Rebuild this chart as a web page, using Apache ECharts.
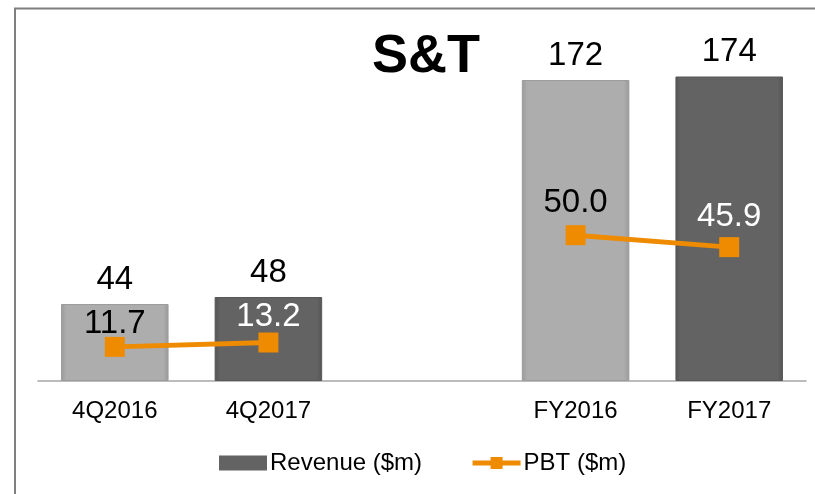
<!DOCTYPE html>
<html lang="en" style="height: 100%">
<head>
  <meta charset="utf-8">
</head>
<body style="height: 100%; margin: 0; background: #fff">
  <div id="container" style="width: 815px; height: 494px"></div>

  <script type="text/javascript" src="https://fastly.jsdelivr.net/npm/echarts@6/dist/echarts.min.js"></script>
  <script type="text/javascript">
    var categories = ['4Q2016', '4Q2017', '', 'FY2016', 'FY2017'];
    var revenue = [44, 48, null, 172, 174];
    var pbt = [11.7, 13.2, null, 50.0, 45.9];
    var pbtLabels = ['11.7', '13.2', '', '50.0', '45.9'];

    var LIGHT = '#adadad';
    var DARK = '#636363';
    var ORANGE = '#ef8b00';
    var FONT = '"Liberation Sans", Arial, sans-serif';

    function barFill(base, edge) {
      return new echarts.graphic.LinearGradient(0, 0, 1, 0, [
        { offset: 0, color: edge },
        { offset: 0.05, color: base },
        { offset: 0.95, color: base },
        { offset: 1, color: edge }
      ]);
    }

    var lightShade = { fill: barFill(LIGHT, '#999999'), border: '#9c9c9c', pbtText: '#000' };
    var darkShade = { fill: barFill(DARK, '#545454'), border: '#575757', pbtText: '#fff' };
    // 2016 columns light, 2017 columns dark
    var shades = [lightShade, darkShade, lightShade, lightShade, darkShade];
    // Excel placed the PBT labels a little unevenly
    var pbtLabelShift = [5, 2, 0, -5, -3];

    var myChart = echarts.init(document.getElementById('container'), null, { renderer: 'canvas' });

    var option = {
      backgroundColor: '#fff',
      animation: false,
      textStyle: { fontFamily: FONT },
      graphic: [
        { type: 'line', shape: { x1: 15, y1: 8, x2: 15, y2: 494 }, style: { stroke: '#7f7f7f', lineWidth: 2 } },
        { type: 'line', shape: { x1: 14, y1: 8.5, x2: 815, y2: 8.5 }, style: { stroke: '#7f7f7f', lineWidth: 2 } },
        {
          type: 'text', left: 372, top: 30,
          style: { text: 'S&T', font: 'bold 54px ' + FONT, fill: '#000' }
        }
      ],
      grid: { left: 38, right: 9, top: 31, bottom: 113 },
      legend: {
        left: 214,
        top: 446,
        itemWidth: 48,
        itemHeight: 15,
        itemGap: 48,
        textStyle: { fontSize: 24, color: '#000', fontFamily: FONT, padding: [0, 0, 0, -2] },
        data: [
          { name: 'Revenue ($m)', icon: 'rect', itemStyle: { color: DARK, borderColor: '#555' } },
          { name: 'PBT ($m)', lineStyle: { width: 5, color: ORANGE } }
        ]
      },
      xAxis: {
        type: 'category',
        data: categories,
        axisLine: { lineStyle: { color: '#a6a6a6', width: 1.5 } },
        axisTick: { length: 8, lineStyle: { color: '#a6a6a6', width: 1.5 } },
        axisLabel: { fontSize: 24, color: '#000', margin: 18, fontFamily: FONT }
      },
      yAxis: [
        { type: 'value', min: 0, max: 200, show: false, splitLine: { show: false } },
        { type: 'value', min: 0, max: 120, show: false, splitLine: { show: false } }
      ],
      series: [
        {
          name: 'Revenue ($m)',
          type: 'bar',
          barWidth: '70%',
          itemStyle: { color: DARK },
          label: {
            show: true,
            position: 'top',
            distance: 8,
            fontSize: 33,
            color: '#000',
            fontFamily: FONT
          },
          data: revenue.map(function (v, i) {
            return {
              value: v,
              itemStyle: { color: shades[i].fill, borderColor: shades[i].border, borderWidth: 1 }
            };
          })
        },
        {
          name: 'PBT ($m)',
          type: 'line',
          yAxisIndex: 1,
          connectNulls: false,
          symbol: 'rect',
          symbolSize: 20,
          color: ORANGE,
          lineStyle: { color: ORANGE, width: 5 },
          itemStyle: { color: ORANGE },
          label: {
            show: true,
            position: 'top',
            distance: 1,
            fontSize: 33,
            fontFamily: FONT
          },
          data: pbt.map(function (v, i) {
            return {
              value: v,
              label: {
                color: shades[i].pbtText,
                offset: [0, pbtLabelShift[i]],
                formatter: pbtLabels[i]
              }
            };
          })
        }
      ]
    };

    myChart.setOption(option);
    window.addEventListener('resize', myChart.resize);
  </script>
</body>
</html>
